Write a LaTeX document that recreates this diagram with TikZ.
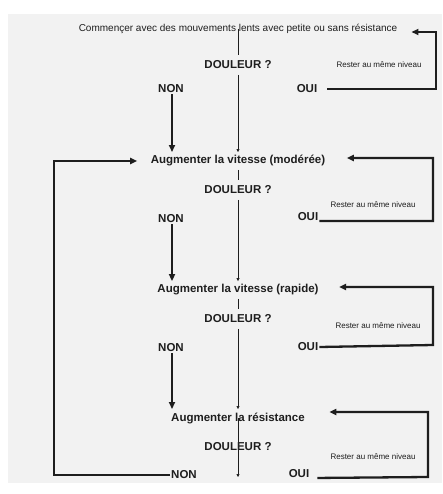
\documentclass[tikz,border=0pt]{standalone}
\usepackage{fontspec}
\setmainfont{Liberation Sans}
\usepackage{xcolor}
\usepackage{tikz}
\usetikzlibrary{arrows.meta,positioning}
\definecolor{figink}{HTML}{1E1E1E}
\definecolor{figpaper}{HTML}{F2F2F2}

\begin{document}
\begin{tikzpicture}[x=1pt,y=-1pt,
  plain/.style={text=figink, font=\fontsize{10}{12}\selectfont, inner sep=2pt},
  stage/.style={text=figink, font=\fontsize{11.5}{13}\selectfont\bfseries},
  painq/.style={text=figink, font=\fontsize{11.5}{13}\selectfont\bfseries, inner sep=5.5pt},
  answer/.style={text=figink, font=\fontsize{11.5}{13}\selectfont\bfseries, inner sep=1pt},
  staynote/.style={text=figink, font=\fontsize{8}{9}\selectfont},
  thickarrow/.style={-{Triangle[length=7pt,width=6pt]}, line width=2.3pt, color=figink},
  thinline/.style={line width=0.6pt, color=figink},
  thinarrow/.style={-{Triangle[length=3pt,width=3pt]}, line width=0.6pt, color=figink}]
\useasboundingbox (0,0) rectangle (442,494);
\fill[figpaper] (8,14) rectangle (442,483);

% level 1
\node[plain] (start) at (238,29) {Commençer avec des mouvements lents avec petite ou sans résistance};
\node[painq] (d1) at (238,65) {DOULEUR ?};
\node[answer] (non1) at (171,89) {NON};
\node[answer] (oui1) at (307,89) {OUI};
\node[staynote] (rst1) at (379,65) {Rester au même niveau};

% level 2
\node[stage] (aug2) at (238,161) {Augmenter la vitesse (modérée)};
\node[painq] (d2) at (238,190) {DOULEUR ?};
\node[answer] (non2) at (171,219) {NON};
\node[answer] (oui2) at (308,217) {OUI};
\node[staynote] (rst2) at (373,205) {Rester au même niveau};

% level 3
\node[stage] (aug3) at (238,290) {Augmenter la vitesse (rapide)};
\node[painq] (d3) at (238,319) {DOULEUR ?};
\node[answer] (non3) at (171,348) {NON};
\node[answer] (oui3) at (308,347) {OUI};
\node[staynote] (rst3) at (378,326) {Rester au même niveau};

% level 4
\node[stage] (aug4) at (238,418) {Augmenter la résistance};
\node[painq] (d4) at (238,447) {DOULEUR ?};
\node[answer] (non4) at (184,475) {NON};
\node[answer] (oui4) at (299,474) {OUI};
\node[staynote] (rst4) at (373,457) {Rester au même niveau};
\coordinate (end4) at (238,477);

% thin spine
\draw[thinline] (start.center) -- (d1.north);
\draw[thinarrow] (d1.south) -- (aug2.north);
\draw[thinline] (aug2.south) -- (d2.north);
\draw[thinarrow] (d2.south) -- (aug3.north);
\draw[thinline] (aug3.south) -- (d3.north);
\draw[thinarrow] (d3.south) -- (aug4.north);
\draw[thinarrow] (aug4.center) -- (end4);

% NON -> next level
\draw[thickarrow] ([xshift=1pt]non1.south) -- ([xshift=1pt]non1.south |- aug2.north);
\draw[thickarrow] ([xshift=1pt]non2.south) -- ([xshift=1pt]non2.south |- aug3.north);
\draw[thickarrow] ([xshift=1pt]non3.south) -- ([xshift=1pt]non3.south |- aug4.north);

% OUI -> stay
\draw[thickarrow] ([xshift=9pt]oui1.east) -- (436,89) |- ([xshift=12pt,yshift=-3pt]start.east);
\draw[thickarrow] (oui2.base east) -- (433,221) |- ([xshift=18pt,yshift=3pt]aug2.east);
\draw[thickarrow] (oui3.east) -- (433,345) |- ([xshift=17pt,yshift=3pt]aug3.east);
\draw[thickarrow] ([xshift=7pt]oui4.base east) -- (428,477) |- ([xshift=21pt,yshift=6pt]aug4.east);

% last NON back to level 2
\draw[thickarrow] (non4.west) -- (54,475) |- ([xshift=-10pt]aug2.west);
\end{tikzpicture}
\end{document}
